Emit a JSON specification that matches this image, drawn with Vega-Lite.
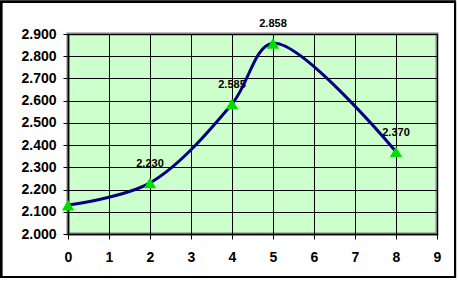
{
  "$schema": "https://vega.github.io/schema/vega-lite/v6.json",
  "width": 369,
  "height": 200,
  "autosize": {"type": "none"},
  "padding": {"left": 68, "top": 34, "right": 21, "bottom": 47},
  "background": "white",
  "config": {
    "view": {"fill": "#ccffcc", "stroke": "#808080", "strokeWidth": 3},
    "axis": {
      "labelFont": "Liberation Sans",
      "labelFontWeight": "bold",
      "labelFontSize": 14,
      "labelColor": "black",
      "labelOverlap": false,
      "labelFlush": false,
      "labelBound": false,
      "domainColor": "black",
      "domainWidth": 1.5,
      "tickColor": "black",
      "tickSize": 5,
      "gridColor": "black",
      "gridOpacity": 1,
      "gridWidth": 1,
      "title": null
    },
    "axisY": {"labelOverlap": false, "labelSeparation": -20}
  },
  "data": {
    "values": [
      {"x": 0, "y": 2.13, "label": ""},
      {"x": 2, "y": 2.23, "label": "2.230"},
      {"x": 4, "y": 2.585, "label": "2.585"},
      {"x": 5, "y": 2.858, "label": "2.858"},
      {"x": 8, "y": 2.37, "label": "2.370"}
    ]
  },
  "layer": [
    {
      "mark": {"type": "text", "font": "Liberation Sans", "fontWeight": "bold", "fontSize": 11, "dy": -19, "color": "black", "clip": false},
      "encoding": {
        "x": {"field": "x", "type": "quantitative", "scale": {"domain": [0, 9], "nice": false},
              "axis": {"tickCount": 9, "grid": true, "labelPadding": 11, "format": "d", "labelOverlap": false}},
        "y": {"field": "y", "type": "quantitative", "scale": {"domain": [2.0, 2.9], "nice": false, "zero": false},
              "axis": {"tickCount": 9, "grid": true, "format": ".3f", "labelPadding": 7, "labelOverlap": false}},
        "text": {"field": "label"}
      }
    },
    {
      "mark": {"type": "line", "interpolate": "catmull-rom", "color": "#000080", "strokeWidth": 3},
      "encoding": {
        "x": {"field": "x", "type": "quantitative"},
        "y": {"field": "y", "type": "quantitative"}
      }
    },
    {
      "mark": {"type": "point", "shape": "triangle-up", "filled": true, "size": 150, "color": "#00dd00", "opacity": 1, "clip": false},
      "encoding": {
        "x": {"field": "x", "type": "quantitative"},
        "y": {"field": "y", "type": "quantitative"}
      }
    },
    {
      "mark": {"type": "rect", "fill": null, "fillOpacity": 0, "stroke": "black", "strokeWidth": 2, "clip": false},
      "encoding": {
        "x": {"datum": -1.63},
        "x2": {"datum": 9.44},
        "y": {"datum": 3.045},
        "y2": {"datum": 1.806}
      }
    }
  ]
}
